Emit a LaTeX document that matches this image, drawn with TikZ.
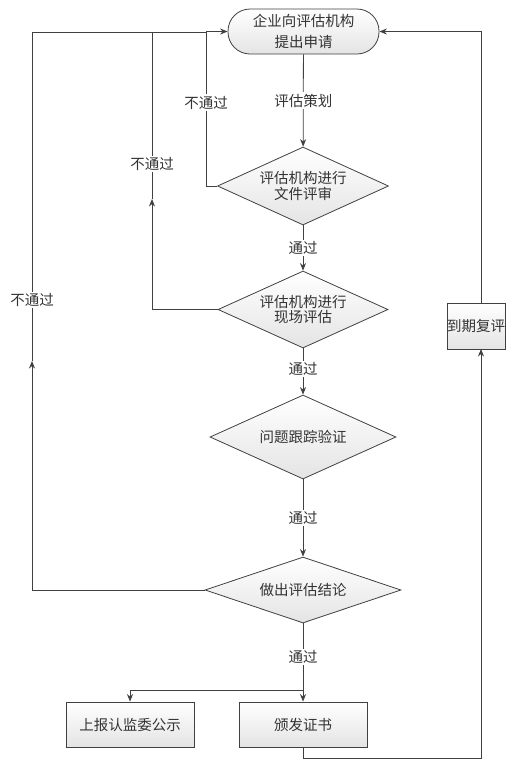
\documentclass[tikz,border=0pt]{standalone}
\usepackage{fontspec}
\newfontfamily\cjk{Noto Sans CJK SC}
\usetikzlibrary{shapes.geometric,arrows.meta,shadows}
\definecolor{linec}{HTML}{404040}
\definecolor{textc}{HTML}{333333}
\definecolor{fillc}{HTML}{E4E4E4}
\tikzset{
  base/.style={draw=linec, line width=0.8pt, top color=white, bottom color=fillc,
    text=textc, font=\cjk\fontsize{14.5}{15.5}\selectfont, align=center, inner sep=0pt},
  dia/.style={base, diamond},
  box/.style={base, rectangle, drop shadow={shadow xshift=1pt, shadow yshift=-1pt, fill=gray!45, opacity=1}},
  term/.style={base, rectangle, rounded corners=22pt},
  ln/.style={draw=linec, line width=0.8pt},
  arr/.style={ln, -{Stealth[length=7.5pt,width=6pt]}},
  lbl/.style={fill=white, text=textc, font=\cjk\fontsize{14.5}{15.5}\selectfont, inner sep=1.5pt}
}
\begin{document}
\begin{tikzpicture}[x=1pt,y=-1pt]
\useasboundingbox (0,0) rectangle (524,769);
% nodes
\node[term, minimum width=151pt, minimum height=45pt, font=\cjk\fontsize{14.5}{21}\selectfont] (start) at (303.5,31.5) {企业向评估机构\\提出申请};
\node[dia, shape aspect=2.2, minimum width=171pt, minimum height=78pt] (d1) at (303,186) {评估机构进行\\文件评审};
\node[dia, shape aspect=2.2, minimum width=170pt, minimum height=77pt] (d2) at (303,309.5) {评估机构进行\\现场评估};
\node[dia, shape aspect=2.2, minimum width=186pt, minimum height=84pt] (d3) at (303,437) {问题跟踪验证};
\node[dia, shape aspect=3, minimum width=196pt, minimum height=66pt] (d4) at (303,590) {做出评估结论};
\node[box, minimum width=128pt, minimum height=45pt] (b1) at (130,724.5) {上报认监委公示};
\node[box, minimum width=128pt, minimum height=45pt] (b2) at (303,724.5) {颁发证书};
\node[box, minimum width=58pt, minimum height=46pt] (b3) at (476,326) {到期复评};
% helper coordinates
\coordinate (m2) at (152,199);
\coordinate (m4) at (32,361);
\coordinate (br) at (303,690);
\coordinate (r1) at (481,758);
\coordinate (r2) at (481,349);
\coordinate (r3) at (481,303);
% main flow
\draw[arr] (start) -- node[lbl]{评估策划} (d1);
\draw[arr] (d1) -- node[lbl]{通过} (d2);
\draw[arr] (d2) -- node[lbl, pos=0.45]{通过} (d3);
\draw[arr] (d3) -- node[lbl]{通过} (d4);
\draw[arr] (d4) -- node[lbl, pos=0.43]{通过} (b2);
\draw[arr] (br) -| (b1.north);
% fail loops
\draw[arr] (d1.west) -- (206,186) |- node[lbl, pos=0.27]{不通过} (start.west);
\draw[arr] (d2.west) -| (m2);
\draw[ln] (m2) -- node[lbl, pos=0.21]{不通过} (152,32) -- (206,32);
\draw[arr] (d4.west) -| (m4);
\draw[ln] (m4) -- node[lbl, pos=0.185]{不通过} (32,32) -- (206,32);
% renewal loop
\draw[arr] (b2.south) |- (r1) -- (r2);
\draw[arr] (r3) |- (start.east);
\end{tikzpicture}
\end{document}
